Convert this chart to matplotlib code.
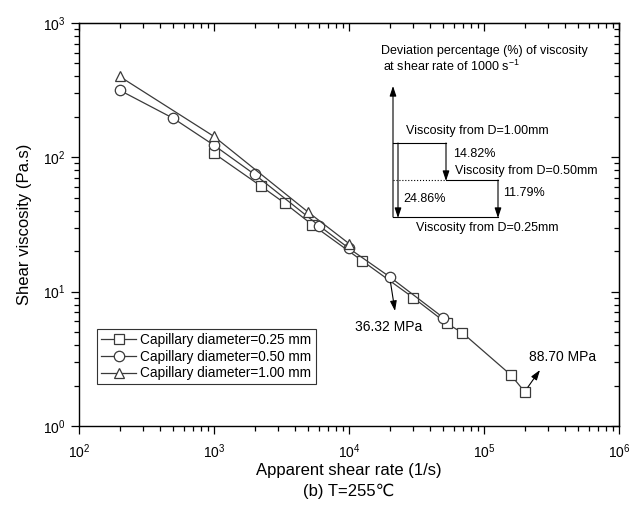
import matplotlib
matplotlib.use("Agg")
import matplotlib.pyplot as plt
from matplotlib.ticker import LogLocator, NullFormatter

plt.rcParams['font.family'] = ['Liberation Sans', 'DejaVu Sans']
plt.rcParams['mathtext.fontset'] = 'custom'
plt.rcParams['mathtext.rm'] = 'Liberation Sans'
plt.rcParams['mathtext.default'] = 'regular'

# data
rate_025 = [1000, 2230, 3360, 5320, 12500, 30000, 53000, 69000, 158000, 200000]
visc_025 = [107, 61, 45.4, 31.6, 17.0, 9.0, 5.8, 4.95, 2.4, 1.8]

rate_050 = [200, 500, 1000, 2000, 6000, 10000, 20000, 50000]
visc_050 = [316, 195, 123, 74.6, 31.0, 21.0, 12.9, 6.4]

rate_100 = [200, 1000, 5000, 10000]
visc_100 = [400, 143, 39, 22.8]

labels = ['Capillary diameter=0.25 mm',
          'Capillary diameter=0.50 mm',
          'Capillary diameter=1.00 mm']

LINE = '#3a3a3a'

fig = plt.figure(figsize=(6.29, 5.11), dpi=100)
ax = fig.add_axes([79 / 629, 1 - 426 / 511, 540 / 629, 403 / 511])

style = dict(color=LINE, lw=0.9, mfc='white', mec=LINE, mew=0.9, ms=7.5)
ax.plot(rate_025, visc_025, marker='s', label=labels[0], zorder=3, **style)
ax.plot(rate_050, visc_050, marker='o', label=labels[1], zorder=3, **style)
ax.plot(rate_100, visc_100, marker='^', label=labels[2], zorder=3, **style)

ax.set_xscale('log')
ax.set_yscale('log')
ax.set_xlim(1e2, 1e6)
ax.set_ylim(1e0, 1e3)

for a in (ax.xaxis, ax.yaxis):
    a.set_major_locator(LogLocator(base=10, numticks=10))
    a.set_minor_locator(LogLocator(base=10, subs=range(2, 10), numticks=10))
    a.set_minor_formatter(NullFormatter())

ax.tick_params(which='both', direction='out', labelsize=10, width=0.9)
ax.tick_params(which='major', length=6)
ax.tick_params(which='minor', length=3.5)
ax.tick_params(axis='x', pad=6)
for s in ax.spines.values():
    s.set_linewidth(1.0)

# mirrored ticks on top and right, pointing inward
top = ax.secondary_xaxis('top')
right = ax.secondary_yaxis('right')
for sec in (top, right):
    sec.tick_params(which='both', direction='in', width=0.9, labelsize=0)
    sec.tick_params(which='major', length=6)
    sec.tick_params(which='minor', length=3.5)
top.xaxis.set_major_locator(LogLocator(base=10, numticks=10))
top.xaxis.set_minor_locator(LogLocator(base=10, subs=range(2, 10), numticks=10))
top.xaxis.set_major_formatter(NullFormatter())
top.xaxis.set_minor_formatter(NullFormatter())
right.yaxis.set_major_locator(LogLocator(base=10, numticks=10))
right.yaxis.set_minor_locator(LogLocator(base=10, subs=range(2, 10), numticks=10))
right.yaxis.set_major_formatter(NullFormatter())
right.yaxis.set_minor_formatter(NullFormatter())

ax.set_ylabel('Shear viscosity (Pa.s)', fontsize=12, labelpad=8)
fig.text((79 + 619) / 2 / 629, 1 - 470 / 511, 'Apparent shear rate (1/s)',
         fontsize=12, ha='center', va='center')
fig.text((79 + 619) / 2 / 629, 1 - 491 / 511, '(b) T=255℃',
         fontsize=12, ha='center', va='center')

leg = ax.legend(loc='upper left', bbox_to_anchor=(0.033, 0.241), borderaxespad=0,
                fontsize=9.8, fancybox=False, edgecolor='#333333', framealpha=1,
                handlelength=2.6, handletextpad=0.3, labelspacing=0.2,
                borderpad=0.3)
leg.get_frame().set_linewidth(0.8)


def px(x, y):
    # pixel position in the picture -> axes fraction
    return ((x - 79) / 540, (426 - y) / 403)


arrow = dict(arrowstyle='-|>,head_length=0.6,head_width=0.2', color='black', lw=0.8,
             shrinkA=0, shrinkB=0)

# stress annotations
ax.annotate('', xy=px(395, 311), xycoords='axes fraction',
            xytext=(rate_050[6], visc_050[6]), textcoords='data',
            arrowprops=dict(arrow, shrinkA=4))
ax.text(*px(355, 327), '36.32 MPa', transform=ax.transAxes, fontsize=10,
        ha='left', va='center')
ax.annotate('', xy=px(540, 370), xycoords='axes fraction',
            xytext=(rate_025[-1], visc_025[-1]), textcoords='data',
            arrowprops=dict(arrow, shrinkA=4))
ax.text(*px(529, 357), '88.70 MPa', transform=ax.transAxes, fontsize=10,
        ha='left', va='center')

# deviation inset
FS = 9
ax.text(*px(381, 51), 'Deviation percentage (%) of viscosity', transform=ax.transAxes,
        fontsize=FS, ha='left', va='center')
ax.text(*px(383, 66), 'at shear rate of 1000 s$^{-1}$', transform=ax.transAxes,
        fontsize=FS, ha='left', va='center')


def seg(p, q, **kw):
    a, b = px(*p), px(*q)
    ax.plot([a[0], b[0]], [a[1], b[1]], transform=ax.transAxes, color='black',
            lw=0.8, clip_on=False, **kw)


def arr(p, q):
    ax.annotate('', xy=px(*q), xycoords='axes fraction', xytext=px(*p),
                textcoords='axes fraction', arrowprops=arrow)


arr((393, 217), (393, 86))
seg((393, 143), (446, 143))
arr((446, 143), (446, 181))
seg((446, 180), (498, 180))
seg((393, 180), (446, 180), ls=':')
arr((498, 180), (498, 218))
seg((393, 217), (498, 217))
arr((398, 143), (398, 218))

ax.text(*px(406, 131), 'Viscosity from D=1.00mm', transform=ax.transAxes,
        fontsize=FS, ha='left', va='center')
ax.text(*px(453, 154), '14.82%', transform=ax.transAxes, fontsize=FS,
        ha='left', va='center')
ax.text(*px(455, 171), 'Viscosity from D=0.50mm', transform=ax.transAxes,
        fontsize=FS, ha='left', va='center')
ax.text(*px(503, 193), '11.79%', transform=ax.transAxes, fontsize=FS,
        ha='left', va='center')
ax.text(*px(403, 199), '24.86%', transform=ax.transAxes, fontsize=FS,
        ha='left', va='center')
ax.text(*px(416, 228), 'Viscosity from D=0.25mm', transform=ax.transAxes,
        fontsize=FS, ha='left', va='center')

fig.savefig('out.png', dpi=100)
